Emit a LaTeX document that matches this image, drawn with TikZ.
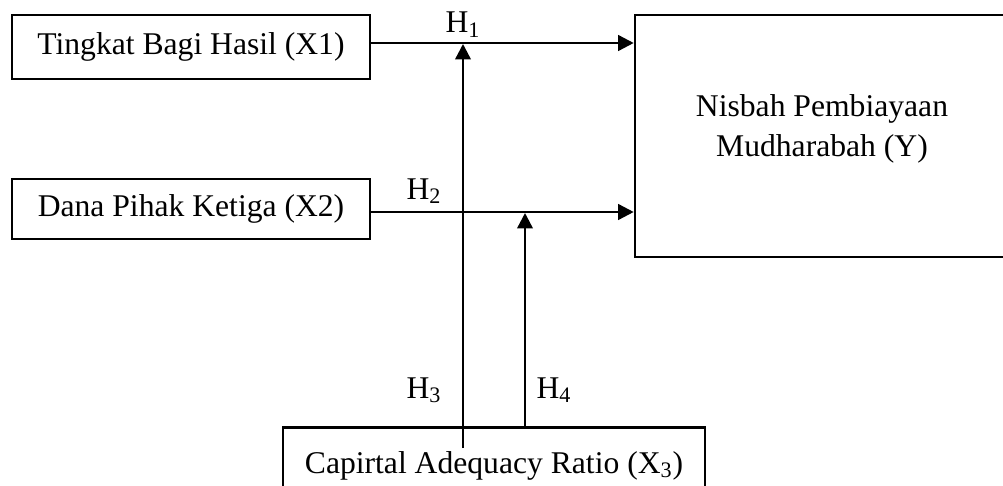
\documentclass[tikz,border=0pt]{standalone}
\usepackage{fontspec}
\setmainfont{Liberation Serif}
\usetikzlibrary{arrows.meta}
\begin{document}
\begin{tikzpicture}[x=0.02cm,y=-0.02cm,
  box/.style={draw,line width=1.5pt,inner sep=0pt,font=\fontsize{18}{23}\selectfont},
  lbl/.style={inner sep=0pt,font=\fontsize{18}{23}\selectfont},
  conn/.style={line width=1.4pt},
  arr/.style={conn,-{Triangle[length=0.31cm,width=0.31cm]}}]
\useasboundingbox (0,0) rectangle (1003,486);
\clip (0,0) rectangle (1003,486);
\node[box,minimum width=7.16cm,minimum height=1.28cm] (X1) at (191,47) {Tingkat Bagi Hasil (X1)};
\node[box,minimum width=7.16cm,minimum height=1.2cm] (X2) at (191,209) {Dana Pihak Ketiga (X2)};
\node[box,minimum width=7.48cm,minimum height=4.84cm] (Y) at (822,136) {};
\node[lbl,align=center,font=\fontsize{18}{22.77}\selectfont] (Ytext) at (822,129) {Nisbah Pembiayaan\\Mudharabah (Y)};
\node[box,minimum width=8.44cm,minimum height=1.4cm,anchor=north] (X3) at (494,426) {};
\node[lbl,anchor=base] (X3text) at (494,473) {Capirtal Adequacy Ratio (X\textsubscript{3})};
\coordinate (a1) at (370,43);
\coordinate (a2) at (370,212);
\coordinate (v1s) at (463,448);
\coordinate (v1e) at (463,44);
\coordinate (v2s) at (525,426);
\coordinate (v2e) at (525,213);
\draw[arr] (a1) -- (a1 -| Y.west);
\draw[arr] (a2) -- (a2 -| Y.west);
\draw[arr] (v1s) -- (v1e);
\draw[arr] (v2s) -- (v2e);
\node[lbl,anchor=base] (H1) at (463,33) {H\textsubscript{1}};
\node[lbl,anchor=base] (H2) at (424,199) {H\textsubscript{2}};
\node[lbl,anchor=base] (H3) at (424,398) {H\textsubscript{3}};
\node[lbl,anchor=base] (H4) at (554,398) {H\textsubscript{4}};
\end{tikzpicture}
\end{document}
